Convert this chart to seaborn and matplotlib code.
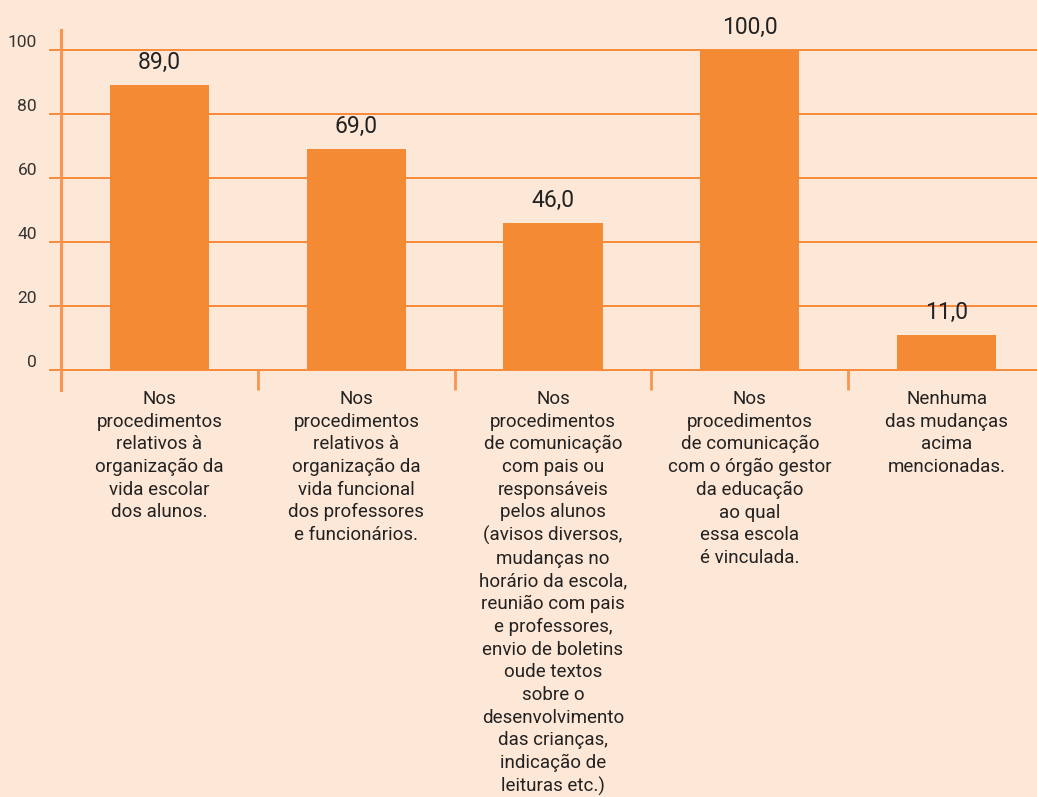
import matplotlib
matplotlib.use("Agg")
import matplotlib.pyplot as plt
import seaborn as sns
import pandas as pd

categories = [
    "Nos\nprocedimentos\nrelativos à\norganização da\nvida escolar\ndos alunos.",
    "Nos\nprocedimentos\nrelativos à\norganização da\nvida funcional\ndos professores\ne funcionários.",
    "Nos\nprocedimentos\nde comunicação\ncom pais ou\nresponsáveis\npelos alunos\n(avisos diversos,\nmudanças no\nhorário da escola,\nreunião com pais\ne professores,\nenvio de boletins\noude textos\nsobre o\ndesenvolvimento\ndas crianças,\nindicação de\nleituras etc.)",
    "Nos\nprocedimentos\nde comunicação\ncom o órgão gestor\nda educação\nao qual\nessa escola\né vinculada.",
    "Nenhuma\ndas mudanças\nacima\nmencionadas.",
]
values = [89.0, 69.0, 46.0, 100.0, 11.0]
yticks = [0, 20, 40, 60, 80, 100]

BG = "#FDE7D6"
BAR = "#F58A35"
LINE = "#F7893A"
AXIS = "#F8964F"
TXT = "#222222"

sns.set_theme(style="white")
plt.rcParams["font.family"] = ["Roboto", "DejaVu Sans"]

fig = plt.figure(figsize=(10.37, 7.97), dpi=100, facecolor=BG)
W, H = 1037, 797
ax = fig.add_axes([61 / W, (H - 390) / H, 984 / W, 360 / H])
ax.set_facecolor(BG)

df = pd.DataFrame({"cat": categories, "val": values})
sns.barplot(data=df, x="cat", y="val", color=BAR, saturation=1, width=0.505,
            ax=ax, zorder=2, linewidth=0)

ax.set_xlim(-0.5, len(values) - 0.5)
ax.set_ylim(-6.25, 106.25)

# horizontal grid
ax.set_yticks(yticks)
ax.set_yticklabels([str(t) for t in yticks], fontsize=12.5, color="#333333")
ax.yaxis.grid(True, color=LINE, linewidth=1.4, zorder=0)
ax.set_axisbelow(True)
ax.tick_params(axis="y", which="major", length=8.6, width=1.4, color=LINE,
               pad=8.6, left=True)
for lbl in ax.get_yticklabels():
    lbl.set_verticalalignment("bottom")

# x category labels
ax.set_xticks(range(len(values)))
ax.set_xticklabels(categories, fontsize=13.5, color=TXT, linespacing=1.33)
ax.tick_params(axis="x", which="major", length=0, pad=0)
ax.set_xticks([i + 0.5 for i in range(len(values) - 1)], minor=True)
ax.tick_params(axis="x", which="minor", direction="in", length=14.4, width=2,
               color=AXIS, bottom=True)

ax.set_xlabel("")
ax.set_ylabel("")

for s in ["top", "right", "bottom"]:
    ax.spines[s].set_visible(False)
ax.spines["left"].set_color(AXIS)
ax.spines["left"].set_linewidth(2.2)

ax.bar_label(ax.containers[0], labels=[f"{v:.1f}".replace(".", ",") for v in values],
             padding=8, fontsize=16.5, color=TXT)

fig.savefig("out.png", dpi=100, facecolor=BG)
